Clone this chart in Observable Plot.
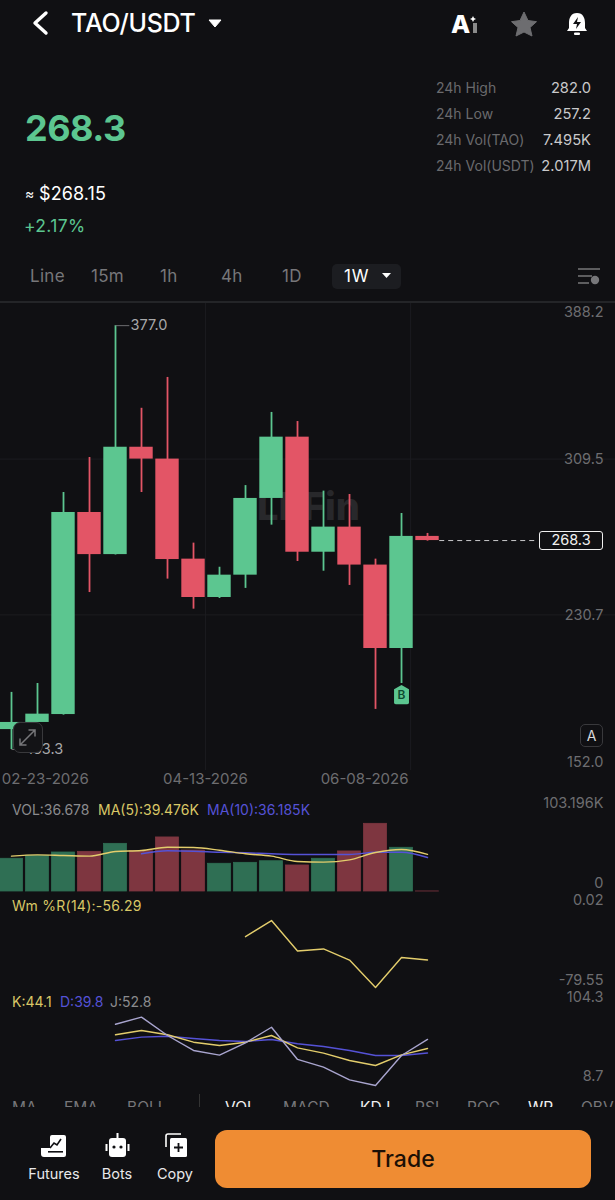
<!DOCTYPE html>
<html><head><meta charset="utf-8">
<script src="https://cdn.jsdelivr.net/npm/d3@7"></script>
<script src="https://cdn.jsdelivr.net/npm/@observablehq/plot@0.6"></script>
<style>
html,body{margin:0;padding:0;background:#101013;}
body{width:615px;height:1200px;position:relative;overflow:hidden;font-family:Inter,"Noto Sans",sans-serif;color:#fff;}
.a{position:absolute;white-space:nowrap;line-height:1;}
.panel{position:absolute;left:0;width:615px;}
.panel svg{display:block;}
.m{transform:translateY(-50%);}
</style></head><body>
<script>
// ---- chart values ----
const opens  = [172.7,176.3,180.3,282.5,261.2,315.5,309.5,258.9,239.5,250.8,289.6,320.6,262.4,275.1,255.9,213.7,270.4];
const closes = [176.3,180.5,282.5,261.2,315.5,309.5,258.7,239.5,250.8,289.6,320.6,262.4,275.1,255.9,213.7,270.4,268.3];
const highs  = [191.5,196.0,292.6,310.3,377.0,335.2,350.8,267.0,254.8,296.1,333.1,328.5,293.3,291.6,258.9,282.0,271.9];
const lows   = [162.6,176.3,180.0,242.0,261.0,292.6,248.8,233.6,239.0,244.1,276.1,257.7,252.8,245.6,182.9,196.0,268.0];
const volumes= [34.8,38.0,41.5,42.2,50.7,42.9,57.5,43.6,29.5,30.5,32.2,27.7,34.8,42.6,72.0,46.5,0.037];
const ma5    = [37.6,39.0,38.3,37.6,42.6,43.6,47.1,46.8,43.9,40.1,37.6,31.9,31.2,33.7,41.5,44.7,39.476];
const ma10   = [null,null,null,null,null,40.1,43.3,42.9,41.8,41.2,40.1,39.4,39.4,39.4,41.8,41.8,36.185];
const wmr    = [null,null,null,null,null,null,null,null,null,-36.5,-22.9,-48.6,-46.9,-56.3,-79.55,-54.1,-56.29];
const kVals  = [null,null,null,null,57.2,61.3,57.2,50.1,46.9,50.1,56.5,44.7,39.6,32.6,27.8,38.0,44.1];
const dVals  = [null,null,null,null,51.7,54.9,55.8,53.6,51.7,50.8,52.7,48.6,46.0,42.2,37.4,37.4,39.8];
const jVals  = [null,null,null,null,67.3,74.0,56.5,42.2,37.7,49.5,64.4,33.6,26.2,14.1,8.7,37.4,52.8];
const priceTicks = [388.2,309.5,230.7,152.0];
const dateLabels = ["02-23-2026","04-13-2026","06-08-2026"];
const dateSlots = [1.3,7.46,13.58];
const gridSlots = [7.46,15.35];
const lastPrice = 268.3;
const buySlot = 15, buyPrice = 190.4;
const highSlot = 4, highPrice = 377.0, highText = "377.0";
const lowSlot = 0, lowPrice = 162.6, lowText = "153.3";
const watermark = "LbFin", watermarkSlot = 11.42, watermarkPrice = 285;
// ---- styling ----
const GREEN="#5cc690", RED="#e35566", DGREEN="#2f6f54", DRED="#7e3640",
      YEL="#e3cd6c", BLUE="#5552d6", LAV="#a9a5cf", GRID="#1c1c20", AXIS="#6d6d70";
const xDomain=[-0.423,23.23];
const idx=d3.range(opens.length);
const candles=idx.map(i=>({i,o:opens[i],c:closes[i],h:highs[i],l:lows[i],v:volumes[i]}));
const pentagon={draw(ctx,size){const r=Math.sqrt(size);ctx.moveTo(0,-r);ctx.lineTo(r*.78,-r*.55);ctx.lineTo(r*.78,r*.85);ctx.quadraticCurveTo(r*.78,r,r*.6,r);ctx.lineTo(-r*.6,r);ctx.quadraticCurveTo(-r*.78,r,-r*.78,r*.85);ctx.lineTo(-r*.78,-r*.55);ctx.closePath();}};
const font='Inter,"Noto Sans",sans-serif';
function base(height,marginBottom,yDomain,marks){
  return Plot.plot({width:615,height,marginLeft:0,marginRight:0,marginTop:0,marginBottom,
    x:{domain:xDomain,axis:null},y:{domain:yDomain,axis:null},
    style:{background:"transparent",fontFamily:font,overflow:"visible"},marks});
}
function place(el,top){const w=document.createElement("div");w.className="panel";w.style.top=top+"px";w.appendChild(el);document.body.appendChild(w);}
function seriesLine(vals,color,curve){
  const rows=idx.filter(i=>vals[i]!=null).map(i=>({i,v:vals[i]}));
  return Plot.line(rows,{x:"i",y:"v",stroke:color,strokeWidth:1.4,curve:curve||"linear"});
}
function axisLabel(v,dy,fmt){
  return Plot.text([v],{y:d=>d,frameAnchor:"right",dx:-12,dy,text:fmt||(d=>String(d)),textAnchor:"end",fill:AXIS,fontSize:14.5});
}
const one=d3.format(".1f");
const up=d=>d.c>=d.o;
// ---- price panel ----
place(base(490,23,[152,388.2],[
  Plot.ruleY(priceTicks.slice(1,3),{stroke:GRID,strokeWidth:1}),
  Plot.ruleX(gridSlots,{y1:152,y2:388.2,stroke:GRID,strokeWidth:1}),
  Plot.text([watermark],{x:watermarkSlot,y:watermarkPrice,text:d=>d,fill:"#28282b",fontSize:38,fontWeight:800,textAnchor:"middle"}),
  Plot.ruleX(candles,{x:"i",y1:"l",y2:"h",stroke:d=>up(d)?GREEN:RED,strokeWidth:1.8}),
  Plot.rect(candles,{x1:d=>d.i-0.45,x2:d=>d.i+0.45,y1:"o",y2:"c",fill:d=>up(d)?GREEN:RED}),
  Plot.link([highPrice],{x1:highSlot,x2:highSlot+0.53,y1:d=>d,y2:d=>d,stroke:AXIS,strokeWidth:1}),
  Plot.text([highText],{x:highSlot+0.58,y:highPrice,text:d=>d,textAnchor:"start",fill:"#a8a8aa",fontSize:14.5,letterSpacing:"0.2px"}),
  Plot.link([lowPrice],{x1:lowSlot,x2:lowSlot+0.55,y1:d=>d,y2:d=>d,stroke:AXIS,strokeWidth:1}),
  Plot.text([lowText],{x:lowSlot+0.6,y:lowPrice,text:d=>d,textAnchor:"start",fill:"#a8a8aa",fontSize:14.5,letterSpacing:"0.2px"}),
  Plot.link([lastPrice],{x1:16.45,x2:20.15,y1:d=>d,y2:d=>d,stroke:"#c9c9cb",strokeWidth:1,strokeDasharray:"5 4"}),
  Plot.dot([buyPrice],{x:buySlot,y:d=>d,symbol:pentagon,r:5.4,fill:GREEN}),
  Plot.text(["B"],{x:buySlot,y:buyPrice,dy:1,text:d=>d,fill:"#0d4a30",fontSize:12,fontWeight:600}),
  axisLabel(priceTicks[0],9,one),
  axisLabel(priceTicks[1],0,one),
  axisLabel(priceTicks[2],0,one),
  axisLabel(priceTicks[3],-8,one),
  Plot.text(dateLabels,{x:(d,i)=>dateSlots[i],frameAnchor:"bottom",dy:13,text:d=>d,fill:AXIS,fontSize:15,letterSpacing:"1.3px"})
]),303);
// ---- volume panel ----
place(base(97,0,[0,103.196],[
  Plot.rect(candles,{x1:d=>d.i-0.44,x2:d=>d.i+0.44,y1:0,y2:"v",fill:d=>up(d)?DGREEN:DRED,stroke:d=>up(d)?DGREEN:DRED,strokeWidth:.8}),
  seriesLine(ma10,BLUE,"monotone-x"),
  seriesLine(ma5,YEL,"monotone-x"),
  axisLabel(103.196,9,d=>d+"K"),
  axisLabel(0,-8)
]),794);
// ---- Wm %R panel ----
place(base(94,0,[-79.55,0.02],[
  seriesLine(wmr,YEL),
  axisLabel(0.02,7),
  axisLabel(-79.55,-7)
]),893);
// ---- KDJ panel ----
place(base(100,0,[8.7,104.3],[
  seriesLine(dVals,BLUE),
  seriesLine(kVals,YEL),
  seriesLine(jVals,LAV),
  axisLabel(104.3,12),
  axisLabel(8.7,-9)
]),985);

// ---- page chrome (text outside the chart) ----
function T(txt,x,y,size,color,extra){const e=document.createElement("div");e.className="a m";e.textContent=txt;e.style.cssText+=`left:${x}px;top:${y}px;font-size:${size}px;color:${color};`+(extra||"");document.body.appendChild(e);return e;}
function R(txt,r,y,size,color,extra){const e=document.createElement("div");e.className="a m";e.textContent=txt;e.style.cssText+=`right:${615-r}px;top:${y}px;font-size:${size}px;color:${color};`+(extra||"");document.body.appendChild(e);return e;}
function H(html){const e=document.createElement("div");e.innerHTML=html;while(e.firstChild)document.body.appendChild(e.firstChild);}
T("TAO/USDT",71,23,25,"#fff","font-weight:500;letter-spacing:-.25px;");
T("268.3",25,128,36,GREEN,"font-weight:700;letter-spacing:-.5px;");
T("≈",25,194,14,"#fff");
T("$268.15",39,194,18,"#fff","letter-spacing:.1px;");
T("+2.17%",24,226,17.5,GREEN,"letter-spacing:.35px;");
[["24h High","282.0",88],["24h Low","257.2",114],["24h Vol(TAO)","7.495K",140],["24h Vol(USDT)","2.017M",166]].forEach(([a,b,y])=>{
  T(a,436,y,14,"#6a6a6d");R(b,591,y,14.7,"#c9c9cb");});
[["Line",30],["15m",91],["1h",160],["4h",221],["1D",282]].forEach(([t,x])=>T(t,x,276,17,"#77777a","letter-spacing:.3px;"));
H(`<div class="a" style="left:332px;top:264px;width:69px;height:25px;background:#1c1d21;border-radius:5px"></div>`);
T("1W",344,276,17,"#fff","letter-spacing:.8px;");
H(`<svg class="a" style="left:0;top:0" width="615" height="303" xmlns="http://www.w3.org/2000/svg">
<path d="M46 13 L35 23 L46 33" fill="none" stroke="#fff" stroke-width="3.4" stroke-linecap="round" stroke-linejoin="round"/>
<path d="M209 20 H221 L215 27 Z" fill="#fff" stroke="#fff" stroke-linejoin="round" stroke-width="1"/>
<path d="M382 273 H391 L386.5 278 Z" fill="#fff"/>
<text x="451" y="33" font-family="Inter" font-weight="800" font-size="25" fill="#fff">A</text>
<path d="M472 18 L473 16 L474 18 L476 19 L474 20 L473 22 L472 20 L470 19 Z" fill="#fff"/>
<rect x="473" y="23" width="4" height="10" fill="#8a8a8a"/>
<path d="M524 12 L528 20.5 L536.5 21.7 L530 27.5 L532 36 L524 32 L516 36 L518 27.5 L511.5 21.7 L520 20.5 Z" fill="#6d6d70" stroke="#6d6d70" stroke-linejoin="round"/>
<path d="M577 13 C571 13 569 18 569 23 L569 28 L567 31 L587 31 L585 28 L585 23 C585 18 583 13 577 13 Z" fill="#fff"/>
<path d="M578 17 L573 24 H577 L576 29 L581 22 H577 Z" fill="#101013"/>
<rect x="574" y="32.5" width="6" height="2.5" rx="1" fill="#fff"/>
<path d="M578 269 H600 M578 276 H592 M578 283 H589" stroke="#77777a" stroke-width="1.6"/>
<circle cx="595" cy="280" r="4.2" fill="#77777a"/>
<line x1="0" x2="615" y1="302" y2="302" stroke="#2b2c30" stroke-width="1.5"/>
</svg>`);
// overlay controls on price panel
H(`<div class="a" style="left:13px;top:722px;width:30px;height:31px;box-sizing:border-box;background:#131316;border:1.5px solid #39393c;border-radius:7px"></div>
<svg class="a" style="left:13px;top:722px" width="30" height="31"><path d="M7 23 L22 8 M15.5 8 H22 V14.5 M7 16.5 V23 H13.5" fill="none" stroke="#77777a" stroke-width="1.5"/></svg>
<div class="a" style="left:580px;top:724px;width:23px;height:23px;box-sizing:border-box;border:1.5px solid #39393c;border-radius:5px;background:#101013;display:flex;align-items:center;justify-content:center;font-size:14px;color:#d8d8da">A</div>
<div class="a" style="left:539px;top:531px;width:64px;height:19px;box-sizing:border-box;border:1.5px solid #f0f0f0;border-radius:3px;background:#101013;display:flex;align-items:center;justify-content:center;font-size:14.5px;color:#f0f0f0">268.3</div>`);
// legends
T("VOL:36.678",12,810,14,"#8b8b8e");
T("MA(5):39.476K",98,810,14,"#d9c766");
T("MA(10):36.185K",207,810,14,BLUE);
T("Wm %R(14):-56.29",12,906,14,"#d9c766","letter-spacing:.25px;");
T("K:44.1",12,1002,14,"#d9c766");
T("D:39.8",60,1002,14,BLUE);
T("J:52.8",110,1002,14,"#8b8b8e");
// clipped indicator tabs
const tabClip=document.createElement("div");
tabClip.style.cssText="position:absolute;left:0;top:1094px;width:615px;height:13px;overflow:hidden;";
document.body.appendChild(tabClip);
[["MA",12,0],["EMA",64,0],["BOLL",127,0],["VOL",225,1],["MACD",283,0],["KDJ",360,1],["RSI",415,0],["ROC",467,0],["WR",528,1],["OBV",581,0]].forEach(([t,x,on])=>{
  const e=document.createElement("div");e.className="a";e.textContent=t;
  e.style.cssText+=`left:${x}px;top:6px;font-size:15.5px;color:${on?"#f0f0f0":"#77777a"};`;tabClip.appendChild(e);});
H(`<div class="a" style="left:199px;top:1094px;width:1px;height:13px;background:#333"></div>`);
// footer
H(`<svg class="a" style="left:0;top:1125px" width="215" height="40">
<path d="M50 12 a2 2 0 0 1 2 -2 h12 a2 2 0 0 1 2 2 v18 a2 2 0 0 1 -2 2 h-20 a3 3 0 0 1 -3 -3 v-6 h9 z" fill="#fff"/>
<path d="M50 23 L54 18 L57 20 L61 14" fill="none" stroke="#101013" stroke-width="1.6"/>
<rect x="48" y="26" width="15" height="1.6" fill="#101013"/>
<rect x="109" y="13" width="17" height="19" rx="3" fill="#fff"/>
<rect x="105.5" y="19" width="2" height="7" fill="#fff"/><rect x="127.5" y="19" width="2" height="7" fill="#fff"/>
<rect x="116.5" y="8" width="2" height="5" fill="#fff"/>
<circle cx="114" cy="22" r="1.6" fill="#101013"/><circle cx="121" cy="22" r="1.6" fill="#101013"/>
<path d="M166 22 v-11 a2 2 0 0 1 2 -2 h13" fill="none" stroke="#fff" stroke-width="1.6"/>
<rect x="170" y="13" width="17" height="19" rx="1.5" fill="#fff"/>
<path d="M178.5 18 v9 M174 22.5 h9" stroke="#101013" stroke-width="1.8"/>
</svg>`);
[["Futures",54],["Bots",117],["Copy",175]].forEach(([t,x])=>{const e=T(t,x,1174,14.5,"#e8e8ea");e.style.transform="translate(-50%,-50%)";});
H(`<div class="a" style="left:215px;top:1130px;width:376px;height:58px;background:#ef8c33;border-radius:12px;display:flex;align-items:center;justify-content:center;font-size:23px;color:#1c1006;font-weight:500">Trade</div>`);
</script>
</body></html>
